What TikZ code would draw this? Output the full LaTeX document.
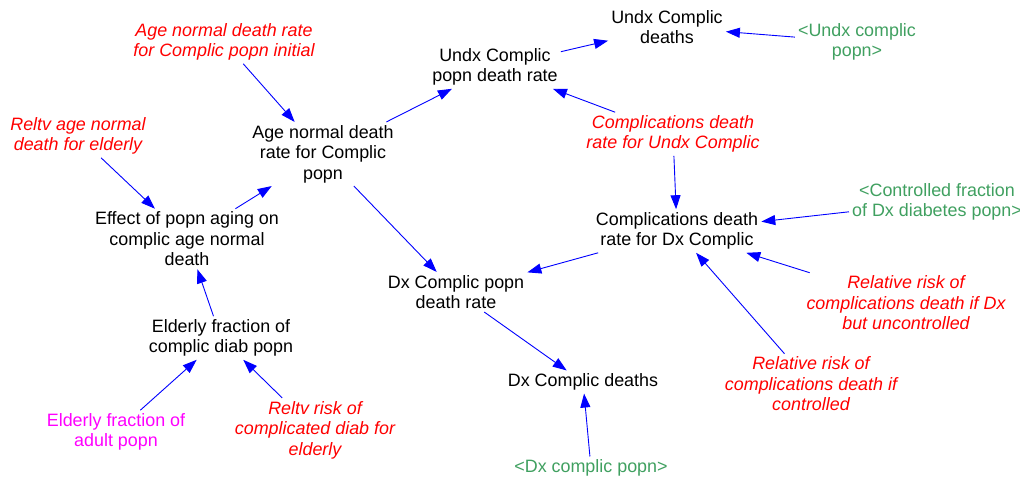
\documentclass[tikz,border=0pt]{standalone}
\usepackage{fontspec}
\setmainfont{Liberation Sans}
\usetikzlibrary{arrows.meta}
\definecolor{vred}{RGB}{255,0,0}
\definecolor{vgreen}{RGB}{64,160,96}
\definecolor{vmag}{RGB}{255,0,255}
\definecolor{vblue}{RGB}{0,0,255}
\tikzset{
  x=1pt,y=-1pt,
  var/.style={align=center,inner sep=3pt,font=\fontsize{17.9}{20.5}\selectfont},
  plain/.style={var,text=black},
  const/.style={var,text=vred,font=\fontsize{17.9}{20.5}\selectfont\itshape},
  shadow/.style={var,text=vgreen},
  lookup/.style={var,text=vmag},
  link/.style={draw=vblue,line width=0.9pt,-{Triangle[length=14pt,width=10pt]}},
}
\begin{document}
\begin{tikzpicture}
\useasboundingbox (0,0) rectangle (1020,483);
\node[const]  (A) at (224,42)  {Age normal death rate\\for Complic popn initial};
\node[plain]  (B) at (667,27)  {Undx Complic\\deaths};
\node[shadow] (C) at (857,42)  {<Undx complic\\popn>};
\node[plain]  (D) at (495,67)  {Undx Complic\\popn death rate};
\node[const]  (E) at (78,136)  {Reltv age normal\\death for elderly};
\node[plain]  (F) at (323,154) {Age normal death\\rate for Complic\\popn};
\node[const]  (G) at (673,134) {Complications death\\rate for Undx Complic};
\node[shadow] (H) at (937,202) {<Controlled fraction\\of Dx diabetes popn>};
\node[plain]  (I) at (677,231) {Complications death\\rate for Dx Complic};
\node[plain]  (J) at (187,239) {Effect of popn aging on\\complic age normal\\death};
\node[plain]  (K) at (456,292) {Dx Complic popn\\death rate};
\node[const]  (L) at (906,303) {Relative risk of\\complications death if Dx\\but uncontrolled};
\node[plain]  (M) at (221,338) {Elderly fraction of\\complic diab popn};
\node[plain]  (N) at (583,382) {Dx Complic deaths};
\node[const]  (O) at (811,384) {Relative risk of\\complications death if\\controlled};
\node[lookup] (P) at (116,432) {Elderly fraction of\\adult popn};
\node[const]  (Q) at (315,430) {Reltv risk of\\complicated diab for\\elderly};
\node[shadow] (R) at (591,468) {<Dx complic popn>};

\draw[link] (A) -- (F);
\draw[link] (F) -- (D);
\draw[link] (D) -- (B);
\draw[link] (C) -- (B);
\draw[link] (G) -- (D);
\draw[link] (G) -- (I);
\draw[link] (H) -- (I);
\draw[link] (I) -- (K);
\draw[link] (L) -- (I);
\draw[link] (O) -- (I);
\draw[link] (F) -- (K);
\draw[link] (K) -- (N);
\draw[link] (R) -- (N);
\draw[link] (E) -- (J);
\draw[link] (J) -- (F);
\draw[link] (M) -- (J);
\draw[link] (P) -- (M);
\draw[link] (Q) -- (M);
\end{tikzpicture}
\end{document}
